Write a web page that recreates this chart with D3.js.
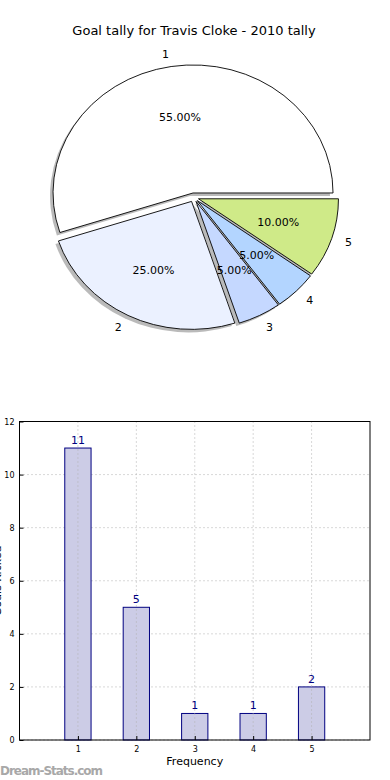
<!DOCTYPE html>
<meta charset="utf-8">
<style>
  body { margin: 0; background: #fff; }
  svg { display: block; font-family: "DejaVu Sans", sans-serif; }
  .grid line { stroke: #b0b0b0; stroke-dasharray: 1,3; }
</style>
<body>
<svg id="chart" width="390" height="780"></svg>
<script src="https://cdn.jsdelivr.net/npm/d3@7"></script>
<script>

  // data
  var sliceLabels = ["1", "2", "3", "4", "5"];
  var sliceValues = [11, 5, 1, 1, 2];
  var sliceColors = ["#ffffff", "#ebf1ff", "#c5d8ff", "#b3d5ff", "#cfea88"];

  var barCats = [1, 2, 3, 4, 5];
  var barValues = [11, 5, 1, 1, 2];
  var yTicks = [0, 2, 4, 6, 8, 10, 12];

  var svg = d3.select("#chart");

  // title
  svg.append("text")
    .attr("x", 194).attr("y", 35)
    .attr("text-anchor", "middle")
    .attr("font-size", 13)
    .text("Goal tally for Travis Cloke - 2010 tally");

  // pie (matplotlib style: starts at 3 o'clock, counter clockwise)
  var cx = 193.8, cy = 197.4, rx = 140, ry = 128, explode = 0.035;

  var pie = d3.pie().sort(null)
    .startAngle(Math.PI / 2)
    .endAngle(Math.PI / 2 - 2 * Math.PI);
  var arcs = pie(sliceValues);
  var total = d3.sum(sliceValues);

  var arc = d3.arc().innerRadius(0).outerRadius(1);

  function pt(a, r) { return [Math.sin(a) * r * rx, -Math.cos(a) * r * ry]; }

  var pieG = svg.append("g").attr("transform", "translate(" + cx + "," + cy + ")");

  arcs.forEach(function (d, i) {
    var mid = (d.startAngle + d.endAngle) / 2;
    var off = pt(mid, explode);
    var g = pieG.append("g").attr("transform", "translate(" + off[0] + "," + off[1] + ")");

    // shadow
    g.append("path")
      .attr("d", arc(d))
      .attr("transform", "translate(-3,3) scale(" + rx + "," + ry + ")")
      .attr("fill", "#666")
      .attr("opacity", 0.45);
  });

  arcs.forEach(function (d, i) {
    var mid = (d.startAngle + d.endAngle) / 2;
    var off = pt(mid, explode);
    var g = pieG.append("g").attr("transform", "translate(" + off[0] + "," + off[1] + ")");

    g.append("path")
      .attr("d", arc(d))
      .attr("transform", "scale(" + rx + "," + ry + ")")
      .attr("fill", sliceColors[i])
      .attr("stroke", "#000")
      .attr("stroke-width", 0.9)
      .attr("vector-effect", "non-scaling-stroke");

    var lp = pt(mid, 1.1);
    g.append("text")
      .attr("x", lp[0]).attr("y", lp[1])
      .attr("dy", "0.35em")
      .attr("text-anchor", lp[0] > 0 ? "start" : "end")
      .attr("font-size", 11)
      .text(sliceLabels[i]);

    var pp = pt(mid, 0.6);
    g.append("text")
      .attr("x", pp[0]).attr("y", pp[1])
      .attr("dy", "0.35em")
      .attr("text-anchor", "middle")
      .attr("font-size", 11)
      .text((sliceValues[i] / total * 100).toFixed(2) + "%");
  });

  // bar chart
  var plotL = 19.5, plotR = 370, plotT = 421.5, plotB = 740;

  var x = d3.scaleLinear().domain([0, 6]).range([plotL, plotR]);
  var y = d3.scaleLinear().domain([0, 12]).range([plotB, plotT]);

  var grid = svg.append("g").attr("class", "grid");
  grid.selectAll(".gy").data(yTicks).enter().append("line")
    .attr("x1", plotL).attr("x2", plotR)
    .attr("y1", function (d) { return y(d); }).attr("y2", function (d) { return y(d); });

  var bw = 0.45;
  svg.selectAll(".bar").data(barValues).enter().append("rect")
    .attr("x", function (d, i) { return x(barCats[i] - bw / 2); })
    .attr("width", x(bw) - x(0))
    .attr("y", function (d) { return y(d); })
    .attr("height", function (d) { return y(0) - y(d); })
    .attr("fill", "#ccccE6")
    .attr("stroke", "#000080")
    .attr("stroke-width", 1);

  // vertical grid drawn over the bars
  var grid2 = svg.append("g").attr("class", "grid");
  grid2.selectAll("line").data(barCats).enter().append("line")
    .attr("x1", function (d) { return x(d); }).attr("x2", function (d) { return x(d); })
    .attr("y1", plotT).attr("y2", plotB);

  svg.selectAll(".val").data(barValues).enter().append("text")
    .attr("x", function (d, i) { return x(barCats[i]); })
    .attr("y", function (d) { return y(d) - 4; })
    .attr("text-anchor", "middle")
    .attr("font-size", 11)
    .attr("fill", "#000080")
    .text(function (d) { return d; });

  // axes
  var xAxis = d3.axisBottom(x).tickValues(barCats).tickFormat(d3.format("d")).tickSize(-4).tickPadding(6);
  var yAxis = d3.axisLeft(y).tickValues(yTicks).tickFormat(d3.format("d")).tickSize(-4).tickPadding(5);

  var gx = svg.append("g").attr("transform", "translate(0," + plotB + ")").call(xAxis);
  var gy = svg.append("g").attr("transform", "translate(" + plotL + ",0)").call(yAxis);
  [gx, gy].forEach(function (g) {
    g.select(".domain").remove();
    g.selectAll("text").attr("font-size", 8).attr("fill", "#000").attr("font-family", "DejaVu Sans");
    g.selectAll("line").attr("stroke", "#000");
  });

  svg.append("rect")
    .attr("x", plotL).attr("y", plotT)
    .attr("width", plotR - plotL).attr("height", plotB - plotT)
    .attr("fill", "none").attr("stroke", "#000").attr("stroke-width", 1);

  svg.append("text")
    .attr("x", (plotL + plotR) / 2).attr("y", 765)
    .attr("text-anchor", "middle")
    .attr("font-size", 11)
    .text("Frequency");

  // y label sits mostly off the left edge, as in the source image
  svg.append("text")
    .attr("transform", "translate(1," + (plotT + plotB) / 2 + ") rotate(-90)")
    .attr("text-anchor", "middle")
    .attr("font-size", 11)
    .text("Goals Kicked");

  svg.append("text")
    .attr("x", 0).attr("y", 775)
    .attr("font-size", 12)
    .attr("font-weight", 600)
    .attr("fill", "#a8a8a8")
    .attr("textLength", 103)
    .text("Dream-Stats.com");

</script>
</body>
